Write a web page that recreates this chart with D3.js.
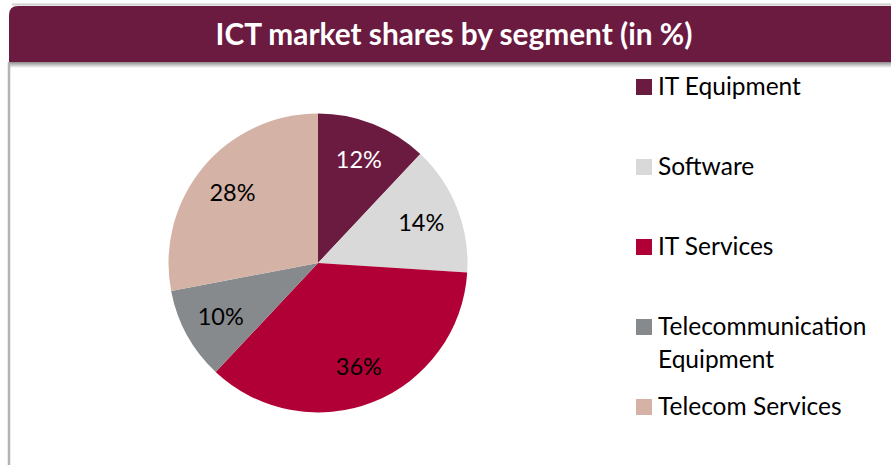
<!DOCTYPE html>
<html>
<head>
<meta charset="utf-8">
<script src="https://cdn.jsdelivr.net/npm/d3@7"></script>
<style>
  body { margin: 0; background: #fff; }
  text { font-family: Lato, "Open Sans", sans-serif; }
</style>
</head>
<body>
<div id="chart"></div>
<script>
// data
var segments = ['IT Equipment', 'Software', 'IT Services', 'Telecommunication Equipment', 'Telecom Services'];
var shares = [12, 14, 36, 10, 28];
var colors = ['#6b1a40', '#d9d9d9', '#b00036', '#868a8d', '#d5b2a6'];
var labelColors = ['#ffffff', '#000000', '#000000', '#000000', '#000000'];
var title = 'ICT market shares by segment (in %)';

var width = 891, height = 465;

var svg = d3.select('#chart')
  .append('svg')
  .attr('width', width)
  .attr('height', height);

var defs = svg.append('defs');
var shadow = defs.append('linearGradient')
  .attr('id', 'shadow')
  .attr('x1', 0).attr('y1', 0).attr('x2', 0).attr('y2', 1);
shadow.append('stop').attr('offset', '0%').attr('stop-color', '#8c8c8c');
shadow.append('stop').attr('offset', '100%').attr('stop-color', '#ffffff');

// frame: top light line, header bar, left border
svg.append('line')
  .attr('x1', 12).attr('x2', width).attr('y1', 4.5).attr('y2', 4.5)
  .attr('stroke', '#d0d0d0').attr('stroke-width', 2);

svg.append('rect')
  .attr('x', 9).attr('y', 62).attr('width', width - 9).attr('height', 6)
  .attr('fill', 'url(#shadow)');

svg.append('line')
  .attr('x1', 9).attr('x2', 9).attr('y1', 62).attr('y2', height)
  .attr('stroke', '#b3b3b3').attr('stroke-width', 2.5);

svg.append('path')
  .attr('d', 'M9,62 L9,15 Q9,6 18,6 L' + width + ',6 L' + width + ',62 Z')
  .attr('fill', '#6b1a40');

var titleText = svg.append('text')
  .attr('x', 454)
  .attr('y', 45)
  .attr('text-anchor', 'middle')
  .attr('fill', '#fff')
  .attr('font-weight', 'bold')
  .attr('font-size', 27)
  .text(title);

// fit title to the width seen in the reference (~477px)
var tw = titleText.node().getComputedTextLength();
titleText.attr('font-size', 27 * 477 / tw);

// pie
var cx = 318, cy = 263, radius = 149.5;

var pie = d3.pie().sort(null).value(function (d) { return d; });
var arcs = pie(shares);

var arc = d3.arc().innerRadius(0).outerRadius(radius);
var labelArc = d3.arc().innerRadius(111).outerRadius(111);

var g = svg.append('g')
  .attr('transform', 'translate(' + cx + ',' + cy + ')');

g.selectAll('path')
  .data(arcs)
  .enter()
  .append('path')
  .attr('d', arc)
  .attr('fill', function (d, i) { return colors[i]; });

g.selectAll('text')
  .data(arcs)
  .enter()
  .append('text')
  .attr('transform', function (d) { return 'translate(' + labelArc.centroid(d) + ')'; })
  .attr('text-anchor', 'middle')
  .attr('dy', '0.36em')
  .attr('font-size', 23.5)
  .attr('fill', function (d, i) { return labelColors[i]; })
  .text(function (d) { return d.data + '%'; });

// legend
var legendBaselines = [95, 175, 255, 335, 415];
var legend = svg.append('g');

segments.forEach(function (name, i) {
  var y = legendBaselines[i];
  legend.append('rect')
    .attr('x', 636).attr('y', y - 16)
    .attr('width', 16).attr('height', 16)
    .attr('fill', colors[i]);

  var t = legend.append('text')
    .attr('x', 658).attr('y', y)
    .attr('font-size', 24.5)
    .attr('fill', '#000');

  // long name wraps onto two lines like the reference
  var words = name === 'Telecommunication Equipment' ? ['Telecommunication', 'Equipment'] : [name];
  words.forEach(function (w, j) {
    t.append('tspan')
      .attr('x', 658)
      .attr('dy', j === 0 ? 0 : 33)
      .text(w);
  });
});
</script>
</body>
</html>
